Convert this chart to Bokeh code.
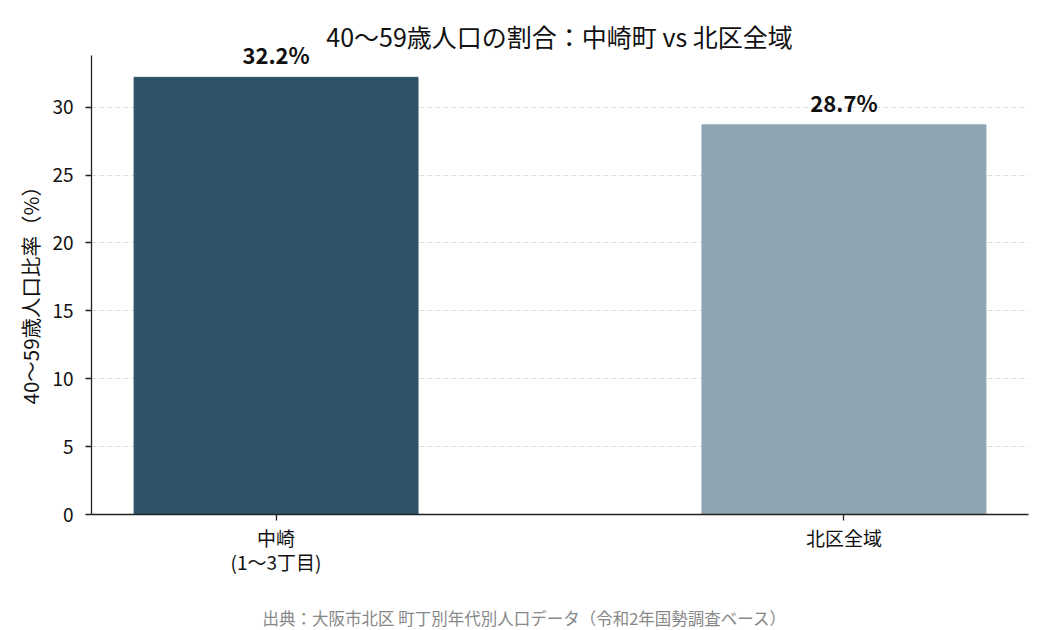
from bokeh.plotting import figure
from bokeh.models import ColumnDataSource, FixedTicker, Range1d, Label, Title
from bokeh.core.properties import value
from bokeh.embed import file_html
from bokeh.resources import INLINE

categories = ["中崎\n(1〜3丁目)", "北区全域"]
ratios = [32.2, 28.7]
bar_colors = ["#2e5366", "#8fa5b1"]
title_text = "40〜59歳人口の割合：中崎町 vs 北区全域"
y_label = "40〜59歳人口比率（%）"
source_note = "出典：大阪市北区 町丁別年代別人口データ（令和2年国勢調査ベース）"
y_ticks = [0, 5, 10, 15, 20, 25, 30]

FONT = "Noto Sans CJK JP"

W, H = 1050, 630
LEFT, RIGHT, BOTTOM = 91, 22, 116
AXIS_H = 459                      # pixel height of the drawn y axis
FRAME_H = H - BOTTOM              # frame extends to top so labels are not clipped
y_axis_top = max(ratios) * 1.05
y_end = y_axis_top * FRAME_H / AXIS_H

xs = list(range(len(categories)))
src = ColumnDataSource(dict(
    x=xs,
    top=ratios,
    color=bar_colors,
    label=[f"{v:.1f}%" for v in ratios],
))

p = figure(width=W, height=H, output_backend="svg", toolbar_location=None,
           x_range=Range1d(-0.325, 1.325), y_range=Range1d(0, y_end),
           min_border_left=LEFT, min_border_right=RIGHT, min_border_top=0,
           min_border_bottom=BOTTOM)

p.vbar(x="x", top="top", width=0.5, color="color", source=src)
p.text(x="x", y="top", text="label", source=src, text_font=value(FONT),
       text_font_size="22px", text_font_style="bold", text_align="center",
       text_baseline="bottom", y_offset=-7, text_color="#111111")

p.outline_line_color = None
p.xgrid.grid_line_color = None
p.ygrid.grid_line_color = "#dddddd"
p.ygrid.grid_line_dash = "5 3"
p.ygrid.grid_line_width = 1

p.xaxis.ticker = FixedTicker(ticks=xs)
p.xaxis.major_label_overrides = {i: c for i, c in zip(xs, categories)}
p.yaxis.ticker = FixedTicker(ticks=y_ticks)
p.yaxis.bounds = (0, y_axis_top)
for ax in (p.xaxis, p.yaxis):
    ax.axis_line_color = "#222222"
    ax.axis_line_width = 1.3
    ax.major_tick_line_color = "#222222"
    ax.major_tick_line_width = 1.3
    ax.major_tick_out = 6
    ax.major_tick_in = 0
    ax.minor_tick_line_color = None
    ax.major_label_text_font = FONT
    ax.major_label_text_font_size = "19px"
    ax.major_label_text_color = "#111111"
p.xaxis.major_label_standoff = 3
p.xaxis.major_label_text_line_height = 0.9
p.yaxis.major_label_standoff = 12

# y-axis label as a left-side title so it can be centred on the drawn axis
ylab = Title(text=y_label, align="left", offset=110, standoff=10,
             text_font=FONT, text_font_size="20.5px", text_color="#111111",
             text_font_style="normal")
p.add_layout(ylab, "left")

title = Label(x=468, y=FRAME_H - 35, x_units="screen", y_units="screen", text=title_text,
              text_font=FONT, text_font_size="25px", text_color="#111111",
              text_align="center", text_baseline="middle")
p.add_layout(title)

spacer = Title(text=" ", text_font_size="1px", standoff=22)
p.add_layout(spacer, "below")

note = Title(text=source_note, align="left", offset=171, standoff=2,
             text_font=FONT, text_font_size="16.5px", text_color="#888888",
             text_font_style="normal")
p.add_layout(note, "below")

open("out.html", "w").write(file_html(p, INLINE))
